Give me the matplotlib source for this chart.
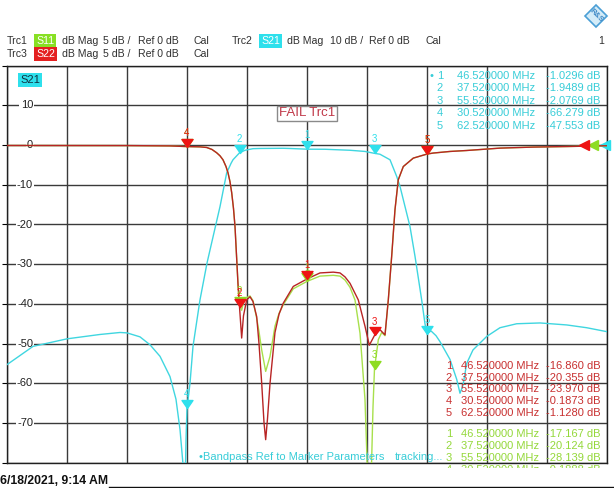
import numpy as np
import matplotlib
matplotlib.use("Agg")
import matplotlib.pyplot as plt
from matplotlib.path import Path
from matplotlib.patches import Polygon
from matplotlib.lines import Line2D
from matplotlib.transforms import blended_transform_factory, Bbox, TransformedBbox

plt.rcParams['font.family'] = ['Liberation Sans', 'DejaVu Sans']

W, H = 614, 488

# Sweep settings (MHz): center 46.52, span 80, 10 divisions
f_start, f_stop, f_div = 6.52, 86.52, 8.0

# Trc2 S21, 10 dB/div, ref 0 dB
s21_top, s21_bottom, s21_div = 20, -80, 10
# Trc1 S11 / Trc3 S22, 5 dB/div, ref 0 dB at the same grid line
s11_top, s11_bottom = 10, -40

ytick_labels = [10, 0, -10, -20, -30, -40, -50, -60, -70]

# ---- trace data ----
s21_f = [6.52, 9.99, 14.52, 18.92, 21.59, 22.52, 24.25, 25.59, 26.92, 28.25,
         29.05, 29.59, 29.99, 30.25, 30.39, 30.52, 30.92, 31.32, 32.25, 33.19,
         33.59, 34.92, 35.81, 36.39, 36.65, 37.52, 38.25, 39.32, 40.25, 43.32,
         44.25, 46.52, 48.92, 50.92, 52.25, 54.25, 55.52, 56.25, 57.59, 58.48,
         58.92, 60.25, 60.92, 61.81, 62.25, 62.52, 63.05, 63.72, 64.25, 65.59,
         66.48, 66.92, 67.32, 67.81, 68.65, 70.48, 72.25, 74.48, 77.59, 81.15,
         83.81, 86.52]
s21_db = [-55.3, -50.7, -48.8, -47.7, -47.2, -47.3, -48.3, -50.3, -53.2, -58.3,
          -64.0, -71.7, -80.5, -88.0, -74.0, -66.279, -60.0, -50.7, -39.0, -29.7,
          -26.4, -15.5, -7.0, -4.6, -3.7, -1.9489, -1.3, -0.9, -0.85, -0.8,
          -0.85, -1.0296, -1.05, -1.2, -1.3, -1.6, -2.0769, -2.3, -3.7, -7.9,
          -10.4, -20.5, -28.0, -39.0, -45.0, -47.553, -46.8, -48.0, -49.5, -54.0,
          -59.0, -62.5, -60.5, -55.0, -51.6, -48.2, -46.0, -45.0, -44.8, -45.3,
          -46.0, -47.0]

s22_f = [6.52, 22.52, 28.25, 30.52, 32.25, 33.15, 33.85, 34.48, 34.92, 35.32,
         35.72, 35.99, 36.25, 36.48, 36.72, 36.92, 37.15, 37.32, 37.52, 37.81,
         38.05, 38.48, 38.92, 39.32, 39.81, 40.12, 40.48, 40.79, 41.01, 41.25,
         41.59, 42.25, 42.79, 43.36, 44.69, 46.52, 48.25, 50.03, 50.92, 51.59,
         52.25, 53.36, 54.25, 54.83, 55.52, 56.25, 56.92, 57.36, 57.81, 58.25,
         58.69, 59.36, 60.69, 62.52, 63.36, 65.59, 67.81, 72.25, 76.65, 81.15,
         86.52]
s22_db = [-0.05, -0.06, -0.1, -0.1873, -0.22, -0.3, -0.55, -0.97, -1.35, -1.85,
          -2.7, -3.5, -4.6, -6.0, -8.0, -10.25, -14.4, -17.5, -20.355, -24.3,
          -21.5, -19.5, -19.1, -19.7, -21.6, -25.0, -30.0, -35.0, -37.1, -34.5,
          -30.0, -23.6, -21.3, -19.9, -17.8, -16.86, -16.1, -16.0, -16.1, -16.6,
          -17.4, -19.5, -22.8, -25.2, -23.97, -23.25, -23.9, -19.5, -14.0, -8.15,
          -4.37, -2.7, -1.64, -1.128, -1.0, -0.8, -0.68, -0.38, -0.25, -0.18,
          -0.08]

s11_f = [6.52, 22.52, 28.25, 30.52, 32.25, 33.15, 33.85, 34.48, 34.92, 35.32,
         35.72, 35.99, 36.25, 36.48, 36.72, 36.92, 37.15, 37.32, 37.52, 37.81,
         38.05, 38.48, 38.92, 39.32, 39.81, 40.12, 40.48, 41.01, 41.59, 42.25,
         42.79, 43.36, 44.69, 46.52, 48.25, 50.03, 50.92, 51.59, 52.25, 52.92,
         53.59, 54.25, 54.61, 54.83, 55.05, 55.32, 55.52, 56.03, 56.48, 56.92,
         57.36, 57.81, 58.25, 58.69, 59.36, 60.69, 62.52, 63.36, 65.59, 67.81,
         72.25, 76.65, 81.15, 86.52]
s11_db = [-0.05, -0.06, -0.1, -0.1888, -0.22, -0.3, -0.55, -0.97, -1.35, -1.85,
          -2.7, -3.5, -4.6, -6.0, -8.0, -10.25, -14.4, -17.5, -20.124, -20.8,
          -19.8, -19.2, -19.0, -19.6, -21.8, -23.5, -25.8, -28.5, -26.6, -22.8,
          -21.2, -20.1, -18.1, -17.167, -16.5, -16.4, -16.5, -17.0, -17.9, -19.5,
          -23.7, -32.0, -42.0, -52.0, -43.0, -33.0, -28.139, -24.5, -23.6, -24.0,
          -19.5, -14.0, -8.15, -4.37, -2.7, -1.64, -1.13, -1.0, -0.8, -0.68,
          -0.38, -0.25, -0.18, -0.08]

# ---- markers ----
mk_num = [1, 2, 3, 4, 5]
mk_f = [46.52, 37.52, 55.52, 30.52, 62.52]
mk_s21 = [-1.0296, -1.9489, -2.0769, -66.279, -47.553]
mk_s22 = [-16.860, -20.355, -23.970, -0.1873, -1.1280]
mk_s11 = [-17.167, -20.124, -28.139, -0.1888, -1.13]
s11_rows = 4  # rows of the S11 marker list drawn (last one runs off the grid)

# ---- colours ----
c_cyan = '#3fd6e0'
c_cyan_mk = '#2ee0ec'
c_cyan_txt = '#38cdd8'
c_red = '#b82424'
c_red_mk = '#ee1414'
c_red_txt = '#c83030'
c_green = '#a8e04c'
c_green_mk = '#8edc22'
c_green_txt = '#94d83a'
c_grid = '#3a3a3a'

fig = plt.figure(figsize=(W / 100, H / 100), dpi=100)
fig.patch.set_facecolor('white')


def fx(x):
    return x / W


def fy(y):
    return 1 - y / H


L, R, T, B = 7, 607, 65.7, 462.7
ax = fig.add_axes([fx(L), fy(B), (R - L) / W, (B - T) / H])
ax.set_xlim(f_start, f_stop)
ax.set_ylim(s21_bottom, s21_top)
ax.set_xticks(np.arange(f_start, f_stop + 0.01, f_div))
ax.set_yticks(np.arange(s21_bottom, s21_top + 0.01, s21_div))
ax.tick_params(left=False, bottom=False, labelleft=False, labelbottom=False)
ax.grid(True, color=c_grid, lw=1.0)
ax.set_axisbelow(True)
for sp in ax.spines.values():
    sp.set_color('#202020')
    sp.set_linewidth(1.0)

ax2 = ax.twinx()
ax2.set_ylim(s11_bottom, s11_top)
ax2.set_axis_off()

# scale labels of the active trace
lab_tr = blended_transform_factory(ax.transAxes, ax.transData)
for v in ytick_labels:
    ax.text(26 / 600, v, str(v), transform=lab_tr, ha='right', va='center',
            fontsize=8, color='#202020', zorder=3,
            bbox=dict(boxstyle='square,pad=0.12', fc='white', ec='none'))

# traces
ax.plot(s21_f, s21_db, color=c_cyan, lw=1.0, zorder=4)
ax2.plot(s11_f, s11_db, color=c_green, lw=1.0, zorder=4)
ax2.plot(s22_f, s22_db, color=c_red, lw=1.0, zorder=5)

# marker symbol: downward triangle with its tip on the trace point
tri = Path([(-0.55, 0.8), (0.55, 0.8), (0.0, 0.0), (-0.55, 0.8)],
           [Path.MOVETO, Path.LINETO, Path.LINETO, Path.CLOSEPOLY])


def draw_markers(axis, vals, color, z):
    axis.plot(mk_f, vals, ls='none', marker=tri, ms=11.5, color=color,
              mec=color, zorder=z)
    for n, f, v in zip(mk_num, mk_f, vals):
        axis.annotate(str(n), (f, v), xytext=(0, 10), textcoords='offset points',
                      ha='center', va='center', fontsize=7, color=color, zorder=z)


draw_markers(ax2, mk_s11, c_green_mk, 6)
draw_markers(ax2, mk_s22, c_red_mk, 7)
draw_markers(ax, mk_s21, c_cyan_mk, 6)

# reference position arrows at the right edge
rt2 = blended_transform_factory(ax2.transAxes, ax2.transData)
rt1 = blended_transform_factory(ax.transAxes, ax.transData)
ax2.plot([0.961], [0], marker='<', ms=7, color=c_red_mk, transform=rt2,
         clip_on=False, zorder=8)
ax2.plot([0.977], [0], marker='<', ms=7, color=c_green_mk, transform=rt2,
         clip_on=False, zorder=7)
ax.plot([0.996], [0], marker='<', ms=7, color=c_cyan_mk, transform=rt1,
        clip_on=False, zorder=7)


def fmt_db(v):
    if abs(v) < 1:
        return f"{v:.4f} dB"
    digits = 5 - len(str(int(abs(v))))
    return f"{v:.{digits}f} dB"


def fmt_f(f):
    return f"{f:.6f} MHz"


# clip region for the marker lists: the grid plus a few pixels below it
clip = TransformedBbox(Bbox([[fx(L), fy(467.5)], [fx(R), fy(T)]]), fig.transFigure)


def marker_list(vals, color, y0, dy, x_num, x_f, x_v, rows, bullet=False):
    for i in range(rows):
        y = y0 + i * dy
        items = [(x_num, str(mk_num[i]), 'right'),
                 (x_f, fmt_f(mk_f[i]), 'left'),
                 (x_v, fmt_db(vals[i]), 'left')]
        if bullet and i == 0:
            items.append((x_num - 9, '•', 'right'))
        for x, s, ha in items:
            t = fig.text(fx(x), fy(y), s, ha=ha, va='center', fontsize=8,
                         color=color)
            t.set_clip_box(clip)
            t.set_clip_on(True)


marker_list(mk_s21, c_cyan_txt, 75.7, 12.5, 443, 457, 546, 5, bullet=True)
marker_list(mk_s22, c_red_txt, 365.7, 11.9, 452, 461, 546, 5)
marker_list(mk_s11, c_green_txt, 433.6, 12.0, 452, 461, 546, s11_rows)

fig.text(fx(199), fy(457.5), '•Bandpass Ref to Marker Parameters', ha='left',
         va='center', fontsize=8, color=c_cyan_txt)
fig.text(fx(395), fy(457.5), 'tracking...', ha='left', va='center',
         fontsize=8, color=c_cyan_txt)

# active trace tag and limit check result
fig.text(fx(20), fy(80), 'S21', ha='left', va='center', fontsize=8, color='#103040',
         bbox=dict(boxstyle='square,pad=0.15', fc=c_cyan_mk, ec='none'))
fig.text(fx(307), fy(113.5), 'FAIL Trc1', ha='center', va='center', fontsize=9.5,
         color='#c03848',
         bbox=dict(boxstyle='square,pad=0.15', fc='white', ec='#8a8a8a', lw=1.0))

# channel header
hdr = '#303030'


def htext(x, y, s, **kw):
    opts = dict(ha='left', va='center', fontsize=7.6, color=hdr)
    opts.update(kw)
    fig.text(fx(x), fy(y), s, **opts)


def tag(x, y, s, color):
    htext(x, y, s, color='white',
          bbox=dict(boxstyle='square,pad=0.22', fc=color, ec='none'))


# Trc1 / Trc3 (5 dB/div)
for y, trc, sname, scol in [(41, 'Trc1', 'S11', '#88e024'),
                            (54, 'Trc3', 'S22', '#e42020')]:
    htext(7, y, trc)
    tag(36, y, sname, scol)
    htext(62, y, 'dB Mag')
    htext(103, y, '5 dB /')
    htext(138, y, 'Ref 0 dB')
    htext(194, y, 'Cal')

# Trc2 (10 dB/div)
htext(232, 41, 'Trc2')
tag(261, 41, 'S21', c_cyan_mk)
htext(287, 41, 'dB Mag')
htext(330, 41, '10 dB /')
htext(369, 41, 'Ref 0 dB')
htext(426, 41, 'Cal')
htext(604, 41, '1', ha='right')

# instrument logo
cx, cy, r = 596, 16, 11
fig.patches.append(Polygon([(fx(cx), fy(cy - r)), (fx(cx + r), fy(cy)),
                            (fx(cx), fy(cy + r)), (fx(cx - r), fy(cy))],
                           closed=True, transform=fig.transFigure,
                           fc='#d4ecf8', ec='#4b9fd6', lw=1.2))
fig.text(fx(cx), fy(cy), 'R&S', ha='center', va='center', fontsize=5.5,
         fontweight='bold', color='#3a86c4', rotation=-45)

# print time stamp
fig.text(fx(0), fy(481), '6/18/2021, 9:14 AM', ha='left', va='center',
         fontsize=8.8, fontweight='bold', color='#101010')
fig.lines.append(Line2D([fx(109), fx(614)], [fy(486.5), fy(486.5)],
                        transform=fig.transFigure, color='#101010', lw=1.0))

fig.savefig('out.png', dpi=100, facecolor='white')
